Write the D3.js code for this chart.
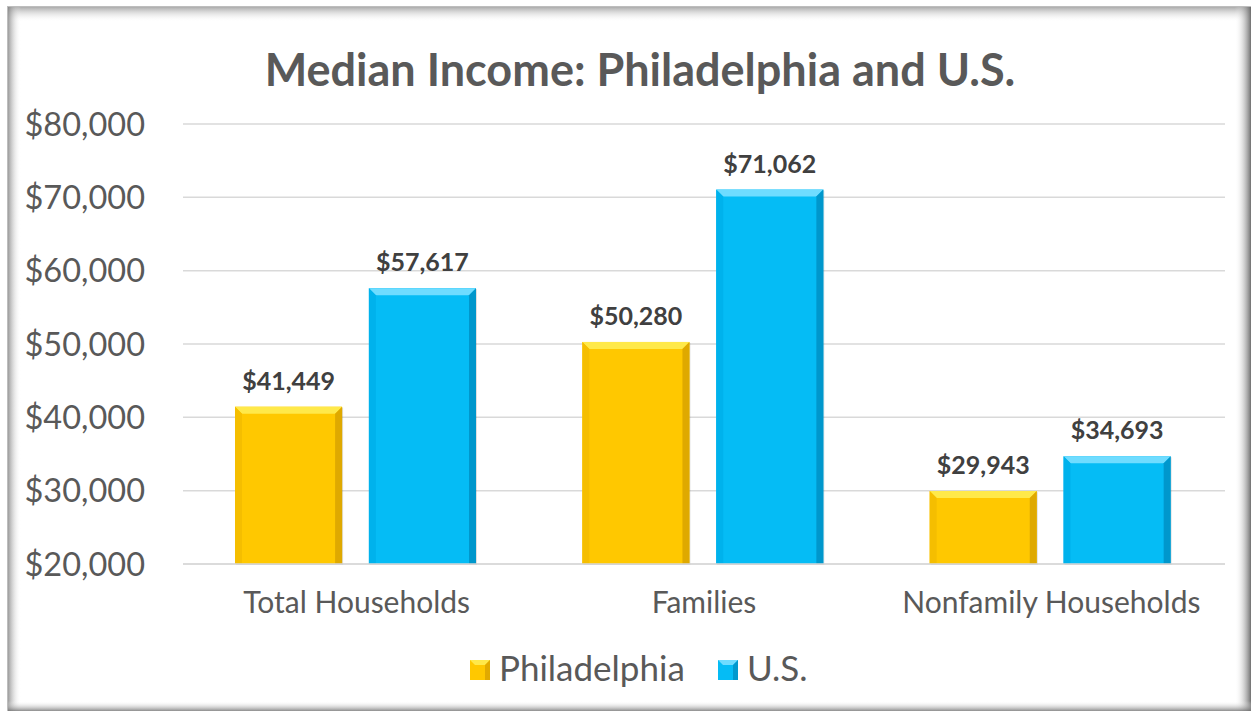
<!DOCTYPE html>
<html>
<head>
<meta charset="utf-8">
<script src="https://cdn.jsdelivr.net/npm/d3@7"></script>
<style>
  html, body { margin: 0; padding: 0; background: #ffffff; }
  svg { display: block; }
</style>
</head>
<body>
<svg id="chart" width="1252" height="711"></svg>
<script>
const title = "Median Income: Philadelphia and U.S.";
const categories = ["Total Households", "Families", "Nonfamily Households"];
const seriesNames = ["Philadelphia", "U.S."];
const philadelphia = [41449, 50280, 29943];
const us = [57617, 71062, 34693];
const yTicks = [20000, 30000, 40000, 50000, 60000, 70000, 80000];

const colors = {
  "Philadelphia": { main: "#FFC800", light: "#FFE94A", side: "#F5BE00", dark: "#D9A300" },
  "U.S.": { main: "#05BCF5", light: "#6FDCFF", side: "#00B2EC", dark: "#0090C4" }
};

const svg = d3.select("#chart");
const font = "Lato, 'Open Sans', sans-serif";

// frame
const defs = svg.append("defs");
function grad(id, x1, y1, x2, y2, stops) {
  const g = defs.append("linearGradient").attr("id", id)
    .attr("x1", x1).attr("y1", y1).attr("x2", x2).attr("y2", y2);
  stops.forEach(s => g.append("stop").attr("offset", s[0]).attr("stop-color", s[1]).attr("stop-opacity", s[2]));
}
grad("shTop", 0, 0, 0, 1, [[0, "#808080", 0.75], [1, "#ffffff", 0]]);
grad("shLeft", 0, 0, 1, 0, [[0, "#707070", 0.8], [1, "#ffffff", 0]]);
grad("shRight", 1, 0, 0, 0, [[0, "#606060", 0.9], [1, "#ffffff", 0]]);
grad("shBottom", 0, 1, 0, 0, [[0, "#707070", 0.8], [1, "#ffffff", 0]]);

const fx0 = 7, fy0 = 6, fx1 = 1251, fy1 = 711;
svg.append("rect").attr("x", fx0).attr("y", fy0).attr("width", fx1 - fx0).attr("height", fy1 - fy0)
  .attr("fill", "#ffffff");
svg.append("rect").attr("x", fx0).attr("y", fy0).attr("width", fx1 - fx0).attr("height", 16).attr("fill", "url(#shTop)");
svg.append("rect").attr("x", fx0).attr("y", fy0).attr("width", 14).attr("height", fy1 - fy0).attr("fill", "url(#shLeft)");
svg.append("rect").attr("x", fx1 - 16).attr("y", fy0).attr("width", 16).attr("height", fy1 - fy0).attr("fill", "url(#shRight)");
svg.append("rect").attr("x", fx0).attr("y", fy1 - 10).attr("width", fx1 - fx0).attr("height", 10).attr("fill", "url(#shBottom)");
svg.append("line").attr("x1", fx0).attr("x2", fx1).attr("y1", fy0 + 0.5).attr("y2", fy0 + 0.5)
  .attr("stroke", "#bdbdbd").attr("stroke-width", 1);
svg.append("line").attr("x1", fx0 + 0.5).attr("x2", fx0 + 0.5).attr("y1", fy0).attr("y2", fy1)
  .attr("stroke", "#bdbdbd").attr("stroke-width", 1);

// scales
const plot = { left: 183, right: 1225, top: 124, bottom: 564 };
const y = d3.scaleLinear().domain([20000, 80000]).range([plot.bottom, plot.top]);
const x0 = d3.scaleBand().domain(categories).range([plot.left, plot.right]).padding(0);
const x1 = d3.scaleBand().domain(seriesNames).range([52, 293]).paddingInner(0.2).paddingOuter(0);

// title
svg.append("text").attr("x", 640).attr("y", 86).attr("text-anchor", "middle")
  .attr("font-family", font).attr("font-weight", "bold").attr("font-size", 45)
  .attr("fill", "#595959").text(title);

// gridlines
svg.append("g").selectAll("line").data(yTicks).join("line")
  .attr("x1", plot.left).attr("x2", plot.right)
  .attr("y1", d => y(d)).attr("y2", d => y(d))
  .attr("stroke", "#d9d9d9").attr("stroke-width", 1.5);

// y axis labels
const fmt = d3.format("$,");
svg.append("g").selectAll("text").data(yTicks).join("text")
  .attr("x", 145).attr("y", d => y(d) + 11.5).attr("text-anchor", "end")
  .attr("font-family", font).attr("font-size", 32.5).attr("fill", "#595959")
  .text(d => fmt(d));

// bars
const rows = [];
categories.forEach((c, i) => {
  rows.push({ cat: c, s: "Philadelphia", v: philadelphia[i] });
  rows.push({ cat: c, s: "U.S.", v: us[i] });
});

const bars = svg.append("g");
rows.forEach(r => {
  const bx = x0(r.cat) + x1(r.s);
  const bw = x1.bandwidth();
  const by = y(r.v);
  const bb = y(20000);
  const c = colors[r.s];
  const b = 7;
  const g = bars.append("g");
  g.append("rect").attr("x", bx + 1).attr("y", by + 1).attr("width", bw).attr("height", bb - by)
    .attr("fill", "#000").attr("opacity", 0.12);
  g.append("rect").attr("x", bx).attr("y", by).attr("width", bw).attr("height", bb - by).attr("fill", c.main);
  g.append("polygon").attr("points", [[bx, by], [bx + bw, by], [bx + bw - b, by + b], [bx + b, by + b]].join(" "))
    .attr("fill", c.light);
  g.append("polygon").attr("points", [[bx, by], [bx + b, by + b], [bx + b, bb], [bx, bb]].join(" "))
    .attr("fill", c.side);
  g.append("polygon").attr("points", [[bx + bw, by], [bx + bw, bb], [bx + bw - b, bb], [bx + bw - b, by + b]].join(" "))
    .attr("fill", c.dark).attr("opacity", 0.85);
  svg.append("text").attr("x", bx + bw / 2).attr("y", by - 17).attr("text-anchor", "middle")
    .attr("font-family", font).attr("font-weight", "bold").attr("font-size", 25)
    .attr("fill", "#404040").text(fmt(r.v));
});

// baseline
svg.append("line").attr("x1", plot.left).attr("x2", plot.right)
  .attr("y1", y(20000)).attr("y2", y(20000)).attr("stroke", "#d9d9d9").attr("stroke-width", 1.5);

// category labels
svg.append("g").selectAll("text").data(categories).join("text")
  .attr("x", d => x0(d) + x0.bandwidth() / 2).attr("y", 613).attr("text-anchor", "middle")
  .attr("font-family", font).attr("font-size", 30).attr("fill", "#595959").text(d => d);

// legend
const legendItems = [{ s: "Philadelphia", x: 470 }, { s: "U.S.", x: 718 }];
legendItems.forEach(it => {
  const c = colors[it.s];
  const sz = 20, lx = it.x, ly = 660, b = 5;
  svg.append("rect").attr("x", lx).attr("y", ly).attr("width", sz).attr("height", sz).attr("fill", c.main);
  svg.append("polygon").attr("points", [[lx, ly], [lx + sz, ly], [lx + sz - b, ly + b], [lx + b, ly + b]].join(" ")).attr("fill", c.light);
  svg.append("polygon").attr("points", [[lx + sz, ly], [lx + sz, ly + sz], [lx + sz - b, ly + sz], [lx + sz - b, ly + b]].join(" ")).attr("fill", c.dark).attr("opacity", 0.8);
  svg.append("text").attr("x", lx + 29).attr("y", ly + 21)
    .attr("font-family", font).attr("font-size", 35).attr("fill", "#595959").text(it.s);
});
</script>
</body>
</html>
